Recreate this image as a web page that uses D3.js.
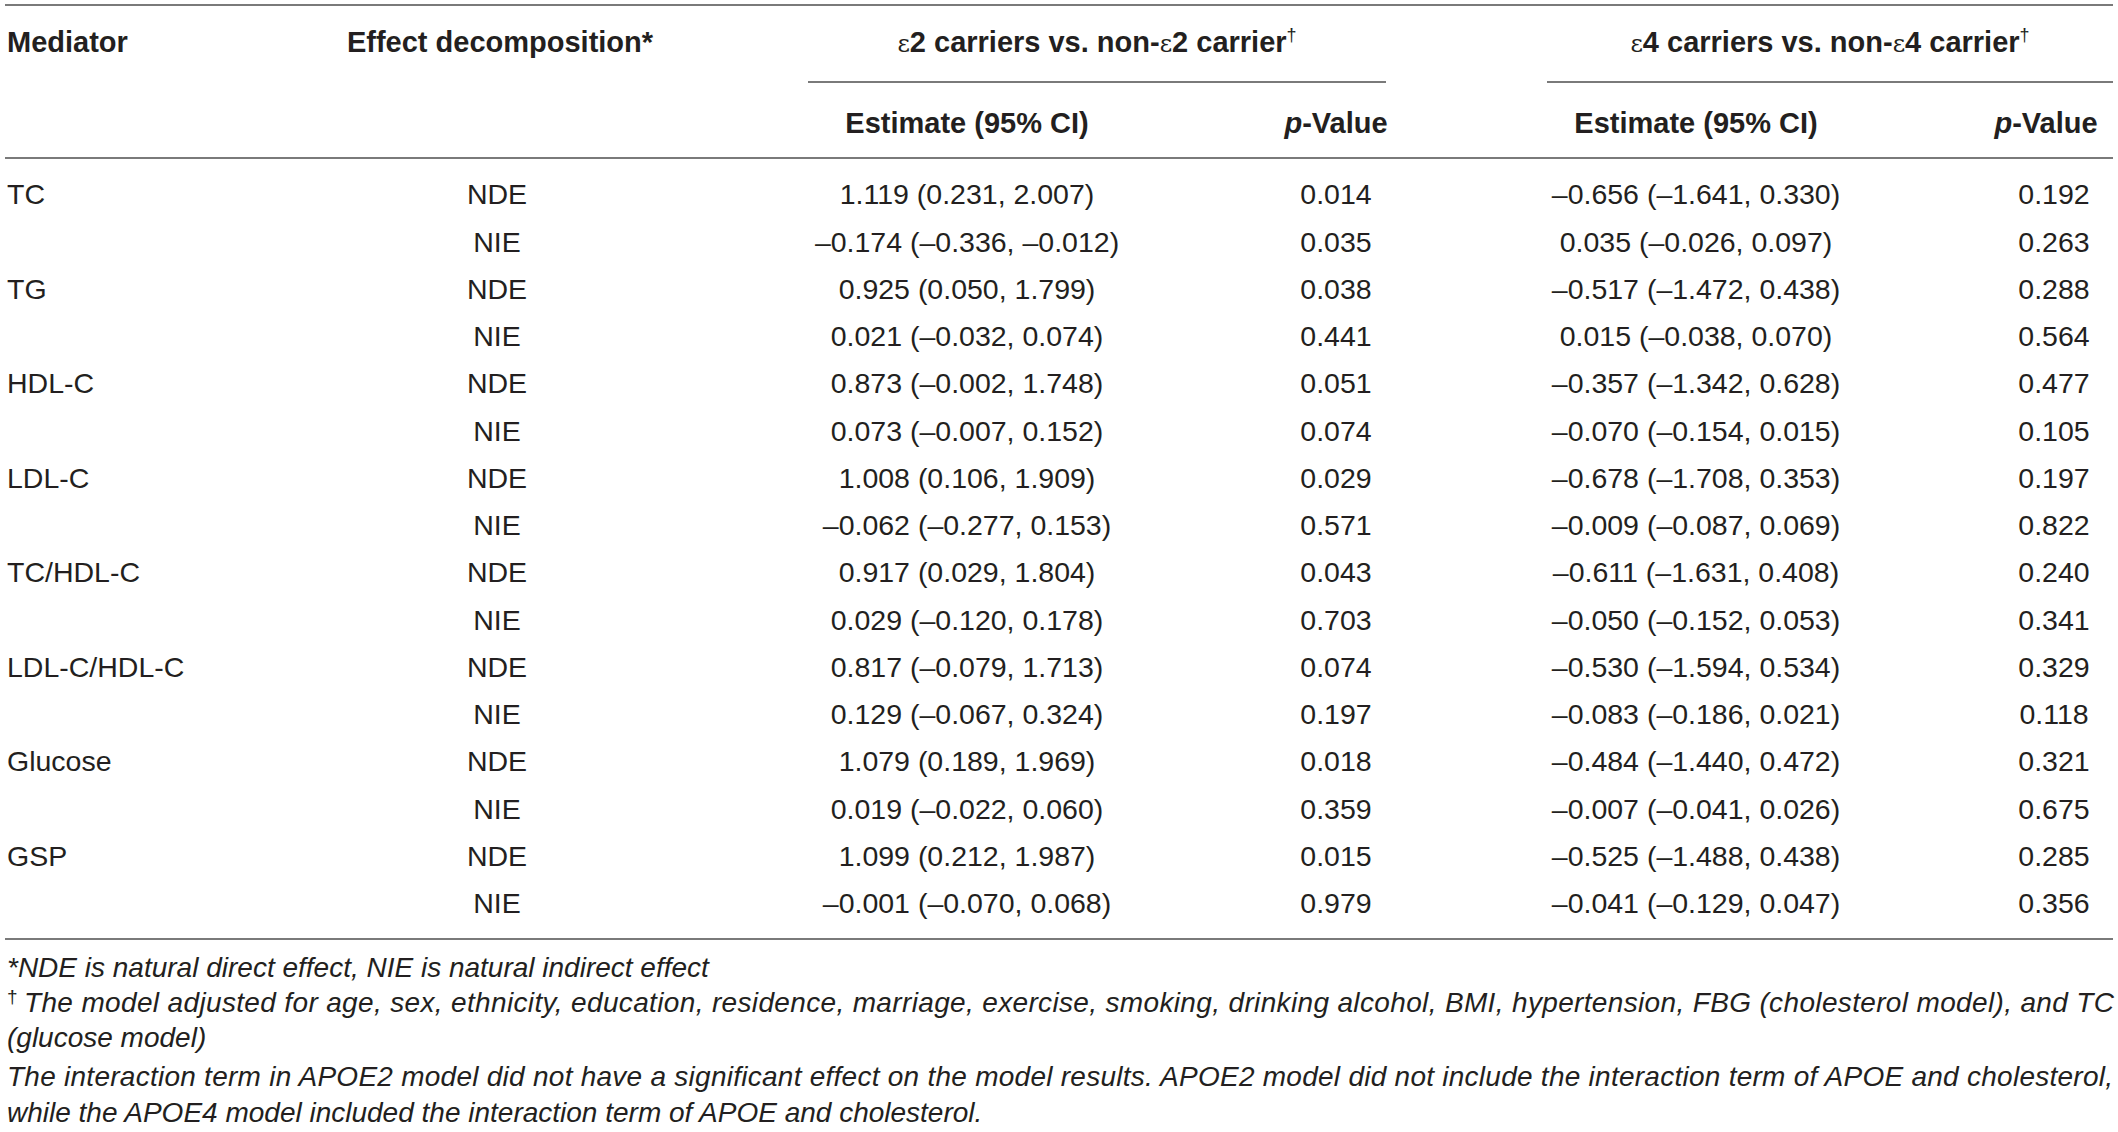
<!DOCTYPE html>
<html>
<head>
<meta charset="utf-8">
<script src="https://cdn.jsdelivr.net/npm/d3@7"></script>
<style>
  body { margin: 0; background: #fff; }
  text { font-family: "Liberation Sans", Arial, sans-serif; fill: #231f20; }
  .hd { font-weight: bold; font-size: 29px; }
  .cell { font-size: 28.5px; }
  .note { font-size: 28px; font-style: italic; }
  .eps { font-family: "DejaVu Serif", "Liberation Serif", serif; font-weight: normal; font-size: 24px; }
</style>
</head>
<body>
<div id="table"></div>
<script>
// rows of the table
var mediators = ["TC", "TG", "HDL-C", "LDL-C", "TC/HDL-C", "LDL-C/HDL-C", "Glucose", "GSP"];
var effects = ["NDE", "NIE"];

var e2Est = ["1.119 (0.231, 2.007)", "–0.174 (–0.336, –0.012)",
             "0.925 (0.050, 1.799)", "0.021 (–0.032, 0.074)",
             "0.873 (–0.002, 1.748)", "0.073 (–0.007, 0.152)",
             "1.008 (0.106, 1.909)", "–0.062 (–0.277, 0.153)",
             "0.917 (0.029, 1.804)", "0.029 (–0.120, 0.178)",
             "0.817 (–0.079, 1.713)", "0.129 (–0.067, 0.324)",
             "1.079 (0.189, 1.969)", "0.019 (–0.022, 0.060)",
             "1.099 (0.212, 1.987)", "–0.001 (–0.070, 0.068)"];
var e2P = ["0.014", "0.035", "0.038", "0.441", "0.051", "0.074", "0.029", "0.571",
           "0.043", "0.703", "0.074", "0.197", "0.018", "0.359", "0.015", "0.979"];
var e4Est = ["–0.656 (–1.641, 0.330)", "0.035 (–0.026, 0.097)",
             "–0.517 (–1.472, 0.438)", "0.015 (–0.038, 0.070)",
             "–0.357 (–1.342, 0.628)", "–0.070 (–0.154, 0.015)",
             "–0.678 (–1.708, 0.353)", "–0.009 (–0.087, 0.069)",
             "–0.611 (–1.631, 0.408)", "–0.050 (–0.152, 0.053)",
             "–0.530 (–1.594, 0.534)", "–0.083 (–0.186, 0.021)",
             "–0.484 (–1.440, 0.472)", "–0.007 (–0.041, 0.026)",
             "–0.525 (–1.488, 0.438)", "–0.041 (–0.129, 0.047)"];
var e4P = ["0.192", "0.263", "0.288", "0.564", "0.477", "0.105", "0.197", "0.822",
           "0.240", "0.341", "0.329", "0.118", "0.321", "0.675", "0.285", "0.356"];

var groupLabels = [["ε", "2 carriers vs. non-", "ε", "2 carrier"], ["ε", "4 carriers vs. non-", "ε", "4 carrier"]];
var footnotes = [
  "*NDE is natural direct effect, NIE is natural indirect effect",
  "The model adjusted for age, sex, ethnicity, education, residence, marriage, exercise, smoking, drinking alcohol, BMI, hypertension, FBG (cholesterol model), and TC",
  "(glucose model)",
  "The interaction term in APOE2 model did not have a significant effect on the model results. APOE2 model did not include the interaction term of APOE and cholesterol,",
  "while the APOE4 model included the interaction term of APOE and cholesterol."
];

var w = 2118, h = 1132;
var svg = d3.select("#table").append("svg")
    .attr("width", w)
    .attr("height", h);

var rows = [];
mediators.forEach(function(m, i) {
  effects.forEach(function(e, j) {
    var k = i * 2 + j;
    rows.push({ mediator: j == 0 ? m : "", effect: e, e2Est: e2Est[k], e2P: e2P[k], e4Est: e4Est[k], e4P: e4P[k] });
  });
});

var yscale = d3.scalePoint()
    .domain(d3.range(rows.length))
    .range([194, 903]);

var cols = ["mediator", "effect", "e2Est", "e2P", "e4Est", "e4P"];
var xscale = d3.scaleOrdinal()
    .domain(cols)
    .range([7, 497, 967, 1336, 1696, 2054]);
var anchor = d3.scaleOrdinal()
    .domain(cols)
    .range(["start", "middle", "middle", "middle", "middle", "middle"]);

// rules
var rule = function(x1, x2, y) {
  svg.append("line")
      .attr("x1", x1).attr("x2", x2)
      .attr("y1", y).attr("y2", y)
      .attr("stroke", "#7a7a7a")
      .attr("stroke-width", 2);
};
rule(5, 2113, 5);
rule(808, 1386, 82);
rule(1547, 2113, 82);
rule(5, 2113, 158);
rule(5, 2113, 939);

// header
svg.append("text").attr("class", "hd").attr("x", xscale("mediator")).attr("y", 52).text("Mediator");
svg.append("text").attr("class", "hd").attr("x", 500).attr("y", 52)
    .attr("text-anchor", "middle").text("Effect decomposition*");

var groupX = [1097, 1830];
groupLabels.forEach(function(parts, g) {
  var t = svg.append("text").attr("class", "hd")
      .attr("x", groupX[g]).attr("y", 52)
      .attr("text-anchor", "middle");
  parts.forEach(function(p, i) {
    t.append("tspan").attr("class", p == "ε" ? "eps" : null).text(p);
  });
  t.append("tspan").attr("dy", -11).style("font-size", "18px").style("font-weight", "normal").text("†");
});

[["e2Est", "e2P"], ["e4Est", "e4P"]].forEach(function(pair) {
  svg.append("text").attr("class", "hd")
      .attr("x", xscale(pair[0])).attr("y", 133)
      .attr("text-anchor", "middle").text("Estimate (95% CI)");
  var t = svg.append("text").attr("class", "hd")
      .attr("x", xscale(pair[1]) - 8 * (pair[1] == "e4P")).attr("y", 133)
      .attr("text-anchor", "middle");
  t.append("tspan").style("font-style", "italic").text("p");
  t.append("tspan").text("-Value");
});

// body cells
var rowG = svg.selectAll("g.row")
    .data(rows)
    .enter()
    .append("g")
      .attr("class", "row")
      .attr("transform", function(d, i) { return "translate(0," + yscale(i) + ")"; });

cols.forEach(function(c) {
  rowG.append("text")
      .attr("class", "cell")
      .attr("x", xscale(c))
      .attr("dy", "0.36em")
      .attr("text-anchor", anchor(c))
      .text(function(d) { return d[c]; });
});

// footnotes (lines 2 and 4 are justified to the table width)
var noteY = [977, 1012, 1047, 1086, 1122];
footnotes.forEach(function(f, i) {
  var t = svg.append("text").attr("class", "note")
      .attr("y", noteY[i]);
  if (i == 1) {
    t.append("tspan").attr("x", 7).attr("dy", -9).style("font-size", "19px").style("font-style", "normal").text("†");
    t.append("tspan").attr("x", 24).attr("dy", 9)
        .attr("textLength", 2090).attr("lengthAdjust", "spacing").text(f);
  } else if (i == 3) {
    t.attr("x", 7).attr("textLength", 2106).attr("lengthAdjust", "spacing").text(f);
  } else {
    t.attr("x", 7).text(f);
  }
});
</script>
</body>
</html>
